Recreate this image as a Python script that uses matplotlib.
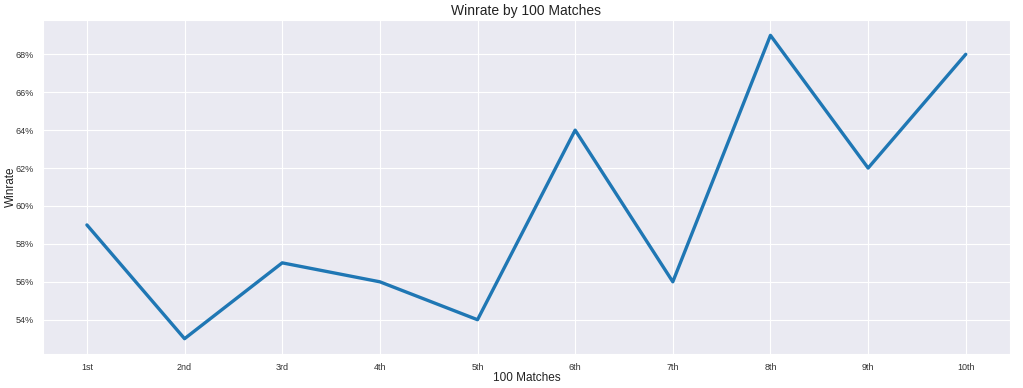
import matplotlib
matplotlib.use('Agg')
import matplotlib.pyplot as plt
import matplotlib.ticker as mticker
import seaborn as sns

# Winrate for each block of 100 matches
blocks = ['1st', '2nd', '3rd', '4th', '5th', '6th', '7th', '8th', '9th', '10th']
winrate = [0.59, 0.53, 0.57, 0.56, 0.54, 0.64, 0.56, 0.69, 0.62, 0.68]

sns.set_style('darkgrid')
plt.rcParams['font.family'] = ['Liberation Sans', 'DejaVu Sans']

fig, ax = plt.subplots(figsize=(10.23, 3.88), dpi=100)
fig.subplots_adjust(left=0.042, right=0.987, top=0.948, bottom=0.088)

ax.plot(blocks, winrate, color='#1f77b4', linewidth=2.4)

ax.yaxis.set_major_formatter(mticker.PercentFormatter(xmax=1, decimals=0))
ax.set_yticks([0.54, 0.56, 0.58, 0.60, 0.62, 0.64, 0.66, 0.68])
ax.tick_params(axis='both', labelsize=6.5, colors='#333333', pad=3)

ax.set_title('Winrate by 100 Matches', fontsize=10, color='#222222', pad=4)
ax.set_xlabel('100 Matches', fontsize=8.5, color='#222222', labelpad=0)
ax.set_ylabel('Winrate', fontsize=8.5, color='#222222')
ax.yaxis.set_label_coords(-0.027, 0.5)

fig.savefig('out.png', dpi=100)
